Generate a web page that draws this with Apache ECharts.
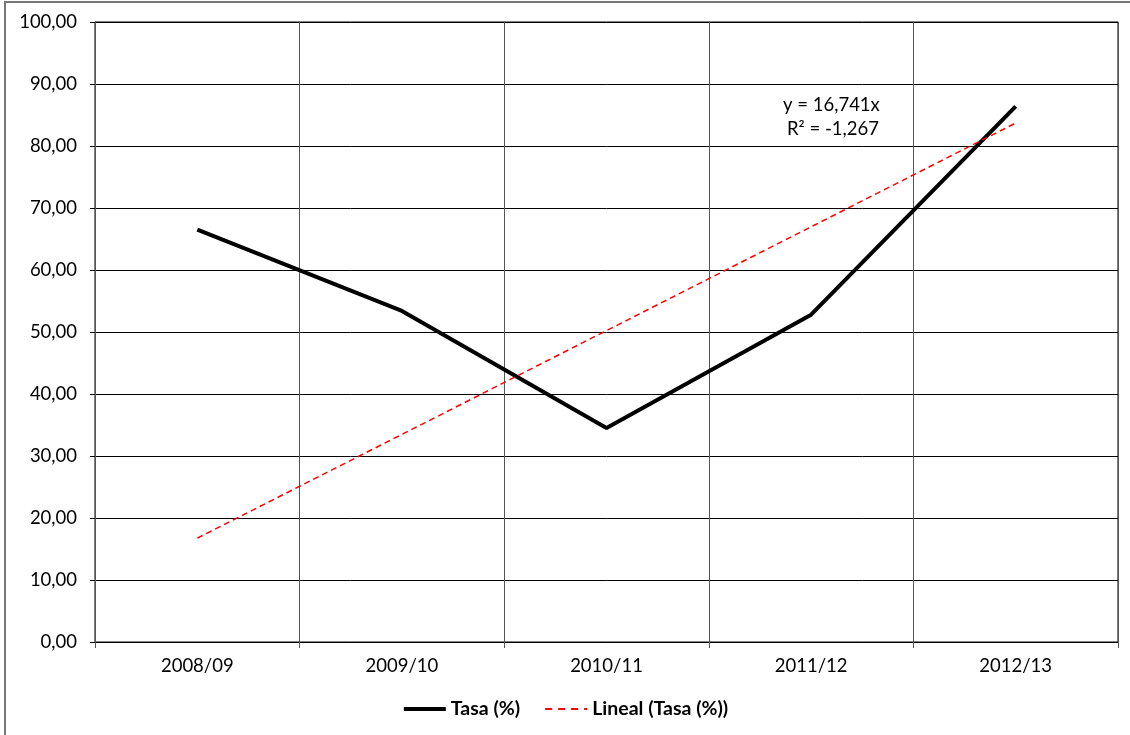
<!DOCTYPE html>
<html>
<head>
<meta charset="utf-8">
<script src="https://cdn.jsdelivr.net/npm/echarts@6/dist/echarts.min.js"></script>
<style>
  html, body { margin: 0; padding: 0; background: #fff; }
  #main { width: 1130px; height: 735px; }
</style>
</head>
<body>
<div id="main"></div>
<script>
// datos
const categories = ['2008/09', '2009/10', '2010/11', '2011/12', '2012/13']
const tasa = [66.5, 53.4, 34.5, 52.8, 86.4]
const lineal = [16.741, 33.482, 50.223, 66.964, 83.705]
const yTicks = [0, 100, 10]

const fmt = v => v.toFixed(2).replace('.', ',')
const font = 'Lato'

const myChart = echarts.init(document.getElementById('main'))
myChart.setOption({
  animation: false,
  textStyle: { fontFamily: font },
  grid: {
    left: 95, right: 12, top: 22, bottom: 93,
    show: true, borderColor: '#000', borderWidth: 1
  },
  legend: {
    bottom: 11,
    left: 'center',
    itemWidth: 42,
    itemHeight: 12,
    itemGap: 24,
    itemStyle: { opacity: 0 },
    textStyle: { fontSize: 19.5, fontWeight: 'bold', color: '#000', fontFamily: font },
    data: [
      { name: 'Tasa (%)', lineStyle: { width: 4, color: '#000' } },
      { name: 'Lineal (Tasa (%))', lineStyle: { width: 2, color: '#ff0000', type: [7, 6] } }
    ]
  },
  xAxis: {
    type: 'category',
    data: categories,
    boundaryGap: true,
    axisLine: { lineStyle: { color: '#000', width: 1 } },
    axisTick: { show: true, interval: 0, length: 6, lineStyle: { color: '#555' } },
    splitLine: { show: true, interval: 0, lineStyle: { color: '#555', width: 1 } },
    axisLabel: { color: '#000', fontSize: 18.5, margin: 15, fontFamily: font }
  },
  yAxis: {
    type: 'value',
    min: yTicks[0], max: yTicks[1], interval: yTicks[2],
    axisLine: { show: true, lineStyle: { color: '#555' } },
    axisTick: { show: true, length: 5, lineStyle: { color: '#000' } },
    splitLine: { lineStyle: { color: '#000', width: 1 } },
    axisLabel: { color: '#000', fontSize: 18.5, margin: 18, formatter: fmt, fontFamily: font }
  },
  graphic: [
    {
      type: 'rect', silent: true,
      shape: { x: 5, y: 2, width: 1200, height: 800 },
      style: { fill: 'none', stroke: '#777', lineWidth: 2 }
    },
    {
      type: 'text', left: 783, top: 96,
      style: { text: 'y = 16,741x', fill: '#000', fontSize: 18.5, fontFamily: font }
    },
    {
      type: 'text', left: 787, top: 120,
      style: { text: 'R² = -1,267', fill: '#000', fontSize: 18.5, fontFamily: font }
    }
  ],
  series: [
    {
      name: 'Tasa (%)',
      type: 'line',
      data: tasa,
      symbol: 'none',
      lineStyle: { color: '#000', width: 4 },
      itemStyle: { color: '#000' },
      z: 3
    },
    {
      name: 'Lineal (Tasa (%))',
      type: 'line',
      data: lineal,
      symbol: 'none',
      lineStyle: { color: '#ff0000', width: 1.5, type: [6, 4] },
      itemStyle: { color: '#ff0000' },
      z: 4
    }
  ]
})
</script>
</body>
</html>
